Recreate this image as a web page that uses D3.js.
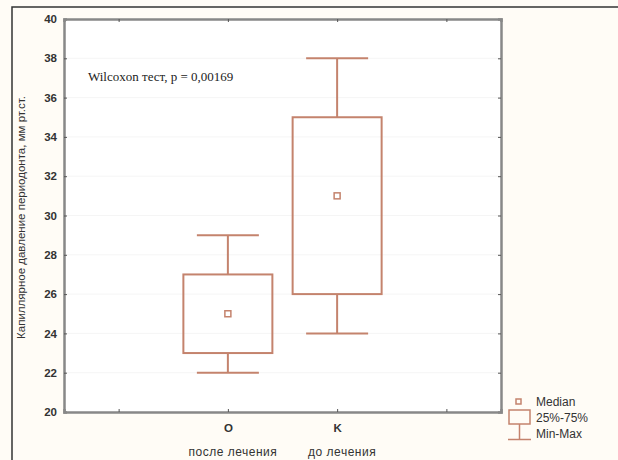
<!DOCTYPE html>
<html>
<head>
<meta charset="utf-8">
<script src="https://cdn.jsdelivr.net/npm/d3@7"></script>
<style>
  body { margin: 0; background: #fff; }
  svg { display: block; }
  text { font-family: "Liberation Sans", Arial, sans-serif; fill: #333; }
</style>
</head>
<body>
<div id="chart"></div>
<script>
// groups and their box statistics
var groups = ['O', 'K'];
var groupNames = ['после лечения', 'до лечения'];
var minVals = [22, 24];
var q1Vals = [23, 26];
var medianVals = [25, 31];
var q3Vals = [27, 35];
var maxVals = [29, 38];
var yTicks = [20, 22, 24, 26, 28, 30, 32, 34, 36, 38, 40];
var legendLabels = ['Median', '25%-75%', 'Min-Max'];
var yLabel = 'Капиллярное давление периодонта, мм рт.ст.';
var note = 'Wilcoxon тест, p = 0,00169';

var W = 618, H = 460,
    plotL = 64, plotR = 501, plotT = 19, plotB = 412,
    boxColor = '#c4836d';

var svg = d3.select('#chart')
    .append('svg')
    .attr('width', W)
    .attr('height', H);

// cream page with dark frame
svg.append('rect')
    .attr('x', 0).attr('y', 0).attr('width', W).attr('height', H)
    .attr('fill', '#fffcf6');
svg.append('path')
    .attr('d', 'M12,' + H + 'V7H' + W)
    .attr('fill', 'none')
    .attr('stroke', '#333')
    .attr('stroke-width', 1.5);

var x = d3.scaleLinear().domain([-1.5, 2.5]).range([plotL, plotR]);
var y = d3.scaleLinear().domain([20, 40]).range([plotB, plotT]);
var xTicks = [-1, 0, 1, 2];

svg.append('rect')
    .attr('x', plotL).attr('y', plotT)
    .attr('width', plotR - plotL).attr('height', plotB - plotT)
    .attr('fill', '#fff');

// faint grid
svg.append('g')
    .selectAll('line')
    .data(yTicks.slice(1, -1))
    .enter()
    .append('line')
    .attr('x1', plotL).attr('x2', plotR)
    .attr('y1', function (d) { return y(d); })
    .attr('y2', function (d) { return y(d); })
    .attr('stroke', '#f5f5f5')
    .attr('stroke-width', 1);

// axes with inward ticks on all four sides
var axisL = d3.axisLeft(y).tickValues(yTicks).tickSize(-3).tickPadding(7);
var axisR = d3.axisRight(y).tickValues(yTicks).tickSize(-3).tickFormat('');
var axisT = d3.axisTop(x).tickValues(xTicks).tickSize(-3).tickFormat('');
var axisB = d3.axisBottom(x).tickValues(xTicks).tickSize(-3).tickPadding(12)
    .tickFormat(function (d) { return groups[d] || ''; });

function styleAxis(g) {
  g.select('.domain').attr('stroke', '#888').attr('stroke-width', 2.5);
  g.selectAll('.tick line').attr('stroke', '#555');
  g.selectAll('.tick text')
      .attr('font-size', 11.5)
      .attr('font-weight', 'bold')
      .attr('fill', '#444')
      .style('font-family', '"Liberation Sans", Arial, sans-serif');
}

svg.append('g').attr('transform', 'translate(' + plotL + ',0)').call(axisL).call(styleAxis);
svg.append('g').attr('transform', 'translate(' + plotR + ',0)').call(axisR).call(styleAxis);
svg.append('g').attr('transform', 'translate(0,' + plotT + ')').call(axisT).call(styleAxis);
svg.append('g').attr('transform', 'translate(0,' + plotB + ')').call(axisB).call(styleAxis);

// second row of category names
svg.append('g')
    .selectAll('text')
    .data(groupNames)
    .enter()
    .append('text')
    .attr('x', function (d, i) { return x(i) + 5; })
    .attr('y', 456)
    .attr('text-anchor', 'middle')
    .attr('font-size', 12)
    .attr('letter-spacing', 0.5)
    .text(function (d) { return d; });

// boxes
var boxHalf = 44.5, capHalf = 31;
var boxes = svg.append('g')
    .selectAll('g')
    .data(groups)
    .enter()
    .append('g')
    .attr('fill', 'none')
    .attr('stroke', boxColor)
    .attr('stroke-width', 2);
boxes.append('line')
    .attr('x1', function (d, i) { return x(i); })
    .attr('x2', function (d, i) { return x(i); })
    .attr('y1', function (d, i) { return y(maxVals[i]); })
    .attr('y2', function (d, i) { return y(q3Vals[i]); });
boxes.append('line')
    .attr('x1', function (d, i) { return x(i); })
    .attr('x2', function (d, i) { return x(i); })
    .attr('y1', function (d, i) { return y(q1Vals[i]); })
    .attr('y2', function (d, i) { return y(minVals[i]); });
boxes.append('line')
    .attr('x1', function (d, i) { return x(i) - capHalf; })
    .attr('x2', function (d, i) { return x(i) + capHalf; })
    .attr('y1', function (d, i) { return y(maxVals[i]); })
    .attr('y2', function (d, i) { return y(maxVals[i]); });
boxes.append('line')
    .attr('x1', function (d, i) { return x(i) - capHalf; })
    .attr('x2', function (d, i) { return x(i) + capHalf; })
    .attr('y1', function (d, i) { return y(minVals[i]); })
    .attr('y2', function (d, i) { return y(minVals[i]); });
boxes.append('rect')
    .attr('x', function (d, i) { return x(i) - boxHalf; })
    .attr('y', function (d, i) { return y(q3Vals[i]); })
    .attr('width', boxHalf * 2)
    .attr('height', function (d, i) { return y(q1Vals[i]) - y(q3Vals[i]); });
boxes.append('rect')
    .attr('x', function (d, i) { return x(i) - 3; })
    .attr('y', function (d, i) { return y(medianVals[i]) - 3; })
    .attr('width', 6)
    .attr('height', 6)
    .attr('stroke-width', 1.5);

// annotation
svg.append('text')
    .attr('x', 88)
    .attr('y', 81)
    .attr('font-size', 13)
    .style('font-family', '"Liberation Serif", "Times New Roman", serif')
    .style('fill', '#222')
    .text(note);

// y axis title
svg.append('text')
    .attr('transform', 'translate(25,' + ((plotT + plotB) / 2 + 2) + ') rotate(-90)')
    .attr('text-anchor', 'middle')
    .attr('font-size', 11.5)
    .text(yLabel);

// legend
var lg = svg.append('g')
    .attr('fill', 'none')
    .attr('stroke', boxColor)
    .attr('stroke-width', 1.5);
lg.append('rect').attr('x', 516).attr('y', 399).attr('width', 5).attr('height', 5);
lg.append('rect').attr('x', 509).attr('y', 410).attr('width', 21).attr('height', 14);
lg.append('line').attr('x1', 519.5).attr('x2', 519.5).attr('y1', 424).attr('y2', 439);
lg.append('line').attr('x1', 508).attr('x2', 531).attr('y1', 439.5).attr('y2', 439.5);
svg.append('g')
    .selectAll('text')
    .data(legendLabels)
    .enter()
    .append('text')
    .attr('x', 536)
    .attr('y', function (d, i) { return 406 + i * 16; })
    .attr('font-size', 12)
    .text(function (d) { return d; });
</script>
</body>
</html>
